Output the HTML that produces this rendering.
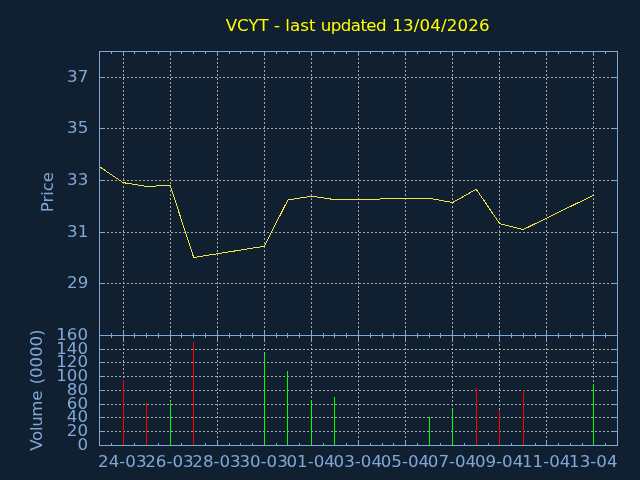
<!DOCTYPE html>
<html><head><meta charset="utf-8"><title>VCYT</title>
<style>html,body{margin:0;padding:0;background:#112030;overflow:hidden}svg{display:block}text{font-family:"DejaVu Sans","Liberation Sans",sans-serif;font-size:16.67px}</style>
</head><body>
<svg width="640" height="480" viewBox="0 0 640 480">
<rect x="0" y="0" width="640" height="480" fill="#112030"/>
<g stroke="#a9a9a9" stroke-width="1" stroke-dasharray="2 2" fill="none">
<path d="M123.5 51.5V335.5" stroke-dashoffset="1.5"/>
<path d="M123.5 335.5V445.5" stroke-dashoffset="3.5"/>
<path d="M170.5 51.5V335.5" stroke-dashoffset="1.5"/>
<path d="M170.5 335.5V445.5" stroke-dashoffset="3.5"/>
<path d="M217.5 51.5V335.5" stroke-dashoffset="1.5"/>
<path d="M217.5 335.5V445.5" stroke-dashoffset="3.5"/>
<path d="M264.5 51.5V335.5" stroke-dashoffset="1.5"/>
<path d="M264.5 335.5V445.5" stroke-dashoffset="3.5"/>
<path d="M311.5 51.5V335.5" stroke-dashoffset="1.5"/>
<path d="M311.5 335.5V445.5" stroke-dashoffset="3.5"/>
<path d="M358.5 51.5V335.5" stroke-dashoffset="1.5"/>
<path d="M358.5 335.5V445.5" stroke-dashoffset="3.5"/>
<path d="M405.5 51.5V335.5" stroke-dashoffset="1.5"/>
<path d="M405.5 335.5V445.5" stroke-dashoffset="3.5"/>
<path d="M452.5 51.5V335.5" stroke-dashoffset="1.5"/>
<path d="M452.5 335.5V445.5" stroke-dashoffset="3.5"/>
<path d="M499.5 51.5V335.5" stroke-dashoffset="1.5"/>
<path d="M499.5 335.5V445.5" stroke-dashoffset="3.5"/>
<path d="M546.5 51.5V335.5" stroke-dashoffset="1.5"/>
<path d="M546.5 335.5V445.5" stroke-dashoffset="3.5"/>
<path d="M593.5 51.5V335.5" stroke-dashoffset="1.5"/>
<path d="M593.5 335.5V445.5" stroke-dashoffset="3.5"/>
<path d="M99.5 77.5H617.5" stroke-dashoffset="0.5"/>
<path d="M99.5 128.5H617.5" stroke-dashoffset="0.5"/>
<path d="M99.5 180.5H617.5" stroke-dashoffset="0.5"/>
<path d="M99.5 232.5H617.5" stroke-dashoffset="0.5"/>
<path d="M99.5 283.5H617.5" stroke-dashoffset="0.5"/>
<path d="M99.5 431.5H617.5" stroke-dashoffset="0.5"/>
<path d="M99.5 417.5H617.5" stroke-dashoffset="0.5"/>
<path d="M99.5 404.5H617.5" stroke-dashoffset="0.5"/>
<path d="M99.5 390.5H617.5" stroke-dashoffset="0.5"/>
<path d="M99.5 376.5H617.5" stroke-dashoffset="0.5"/>
<path d="M99.5 362.5H617.5" stroke-dashoffset="0.5"/>
<path d="M99.5 349.5H617.5" stroke-dashoffset="0.5"/>
</g>
<path d="M111.5 51.5v2.5M111.5 333.0v5.0M111.5 445.5v-2.5M123.5 51.5v4.5M123.5 331.0v9.0M123.5 445.5v-4.5M134.5 51.5v2.5M134.5 333.0v5.0M134.5 445.5v-2.5M146.5 51.5v2.5M146.5 333.0v5.0M146.5 445.5v-2.5M158.5 51.5v2.5M158.5 333.0v5.0M158.5 445.5v-2.5M170.5 51.5v4.5M170.5 331.0v9.0M170.5 445.5v-4.5M181.5 51.5v2.5M181.5 333.0v5.0M181.5 445.5v-2.5M193.5 51.5v2.5M193.5 333.0v5.0M193.5 445.5v-2.5M205.5 51.5v2.5M205.5 333.0v5.0M205.5 445.5v-2.5M217.5 51.5v4.5M217.5 331.0v9.0M217.5 445.5v-4.5M229.5 51.5v2.5M229.5 333.0v5.0M229.5 445.5v-2.5M240.5 51.5v2.5M240.5 333.0v5.0M240.5 445.5v-2.5M252.5 51.5v2.5M252.5 333.0v5.0M252.5 445.5v-2.5M264.5 51.5v4.5M264.5 331.0v9.0M264.5 445.5v-4.5M276.5 51.5v2.5M276.5 333.0v5.0M276.5 445.5v-2.5M287.5 51.5v2.5M287.5 333.0v5.0M287.5 445.5v-2.5M299.5 51.5v2.5M299.5 333.0v5.0M299.5 445.5v-2.5M311.5 51.5v4.5M311.5 331.0v9.0M311.5 445.5v-4.5M323.5 51.5v2.5M323.5 333.0v5.0M323.5 445.5v-2.5M334.5 51.5v2.5M334.5 333.0v5.0M334.5 445.5v-2.5M346.5 51.5v2.5M346.5 333.0v5.0M346.5 445.5v-2.5M358.5 51.5v4.5M358.5 331.0v9.0M358.5 445.5v-4.5M370.5 51.5v2.5M370.5 333.0v5.0M370.5 445.5v-2.5M382.5 51.5v2.5M382.5 333.0v5.0M382.5 445.5v-2.5M393.5 51.5v2.5M393.5 333.0v5.0M393.5 445.5v-2.5M405.5 51.5v4.5M405.5 331.0v9.0M405.5 445.5v-4.5M417.5 51.5v2.5M417.5 333.0v5.0M417.5 445.5v-2.5M429.5 51.5v2.5M429.5 333.0v5.0M429.5 445.5v-2.5M440.5 51.5v2.5M440.5 333.0v5.0M440.5 445.5v-2.5M452.5 51.5v4.5M452.5 331.0v9.0M452.5 445.5v-4.5M464.5 51.5v2.5M464.5 333.0v5.0M464.5 445.5v-2.5M476.5 51.5v2.5M476.5 333.0v5.0M476.5 445.5v-2.5M488.5 51.5v2.5M488.5 333.0v5.0M488.5 445.5v-2.5M499.5 51.5v4.5M499.5 331.0v9.0M499.5 445.5v-4.5M511.5 51.5v2.5M511.5 333.0v5.0M511.5 445.5v-2.5M523.5 51.5v2.5M523.5 333.0v5.0M523.5 445.5v-2.5M535.5 51.5v2.5M535.5 333.0v5.0M535.5 445.5v-2.5M546.5 51.5v4.5M546.5 331.0v9.0M546.5 445.5v-4.5M558.5 51.5v2.5M558.5 333.0v5.0M558.5 445.5v-2.5M570.5 51.5v2.5M570.5 333.0v5.0M570.5 445.5v-2.5M582.5 51.5v2.5M582.5 333.0v5.0M582.5 445.5v-2.5M593.5 51.5v4.5M593.5 331.0v9.0M593.5 445.5v-4.5M605.5 51.5v2.5M605.5 333.0v5.0M605.5 445.5v-2.5M99.5 77.5h4.5M617.5 77.5h-4.5M99.5 128.5h4.5M617.5 128.5h-4.5M99.5 180.5h4.5M617.5 180.5h-4.5M99.5 232.5h4.5M617.5 232.5h-4.5M99.5 283.5h4.5M617.5 283.5h-4.5M99.5 431.5h4.5M617.5 431.5h-4.5M99.5 417.5h4.5M617.5 417.5h-4.5M99.5 404.5h4.5M617.5 404.5h-4.5M99.5 390.5h4.5M617.5 390.5h-4.5M99.5 376.5h4.5M617.5 376.5h-4.5M99.5 362.5h4.5M617.5 362.5h-4.5M99.5 349.5h4.5M617.5 349.5h-4.5" stroke="#7fa8d8" stroke-width="1" fill="none"/>
<path d="M99.50 166.70 L123.05 182.60 L146.59 186.50 L170.14 185.25 L193.68 257.50 L264.32 246.25 L287.87 200.00 L311.41 196.25 L334.96 199.65 L429.14 198.30 L452.69 202.50 L476.24 189.25 L499.78 223.75 L523.33 229.50 L593.97 195.00" stroke="#f0e448" stroke-width="1" fill="none" stroke-linejoin="miter" shape-rendering="crispEdges"/>
<path d="M123.5 445.5V380.0" stroke="#ff0000" stroke-width="1"/>
<path d="M146.5 445.5V403.0" stroke="#ff0000" stroke-width="1"/>
<path d="M170.5 445.5V403.0" stroke="#00ff00" stroke-width="1"/>
<path d="M193.5 445.5V342.0" stroke="#ff0000" stroke-width="1"/>
<path d="M264.5 445.5V354.0" stroke="#00ff00" stroke-width="1"/>
<path d="M287.5 445.5V371.0" stroke="#00ff00" stroke-width="1"/>
<path d="M311.5 445.5V400.0" stroke="#00ff00" stroke-width="1"/>
<path d="M334.5 445.5V397.0" stroke="#00ff00" stroke-width="1"/>
<path d="M429.5 445.5V417.0" stroke="#00ff00" stroke-width="1"/>
<path d="M452.5 445.5V410.0" stroke="#00ff00" stroke-width="1"/>
<path d="M476.5 445.5V388.0" stroke="#ff0000" stroke-width="1"/>
<path d="M499.5 445.5V410.0" stroke="#ff0000" stroke-width="1"/>
<path d="M523.5 445.5V390.0" stroke="#ff0000" stroke-width="1"/>
<path d="M593.5 445.5V384.0" stroke="#00ff00" stroke-width="1"/>
<g stroke="#7fa8d8" stroke-width="1" fill="none">
<rect x="99.5" y="51.5" width="518.0" height="284.0"/>
<rect x="99.5" y="335.5" width="518.0" height="110.0"/>
</g>
<g fill="#7fa8d8">
<text x="88.3" y="81.9" text-anchor="end">37</text>
<text x="88.3" y="132.9" text-anchor="end">35</text>
<text x="88.3" y="184.9" text-anchor="end">33</text>
<text x="88.3" y="236.9" text-anchor="end">31</text>
<text x="88.3" y="287.9" text-anchor="end">29</text>
<text x="88.0" y="449.8" text-anchor="end">0</text>
<text x="88.0" y="435.8" text-anchor="end">20</text>
<text x="88.0" y="421.8" text-anchor="end">40</text>
<text x="88.0" y="408.8" text-anchor="end">60</text>
<text x="88.0" y="394.8" text-anchor="end">80</text>
<text x="88.0" y="380.8" text-anchor="end">100</text>
<text x="88.0" y="366.8" text-anchor="end">120</text>
<text x="88.0" y="353.8" text-anchor="end">140</text>
<text x="88.0" y="339.8" text-anchor="end">160</text>
<text x="122.3" y="467" text-anchor="middle">24-03</text>
<text x="169.4" y="467" text-anchor="middle">26-03</text>
<text x="216.5" y="467" text-anchor="middle">28-03</text>
<text x="263.6" y="467" text-anchor="middle">30-03</text>
<text x="310.7" y="467" text-anchor="middle">01-04</text>
<text x="357.8" y="467" text-anchor="middle">03-04</text>
<text x="404.9" y="467" text-anchor="middle">05-04</text>
<text x="452.0" y="467" text-anchor="middle">07-04</text>
<text x="499.1" y="467" text-anchor="middle">09-04</text>
<text x="546.2" y="467" text-anchor="middle">11-04</text>
<text x="593.3" y="467" text-anchor="middle">13-04</text>
<text transform="translate(52.8 192.2) rotate(-90)" text-anchor="middle" letter-spacing="-0.12">Price</text>
<text transform="translate(41.5 390.1) rotate(-90)"><tspan x="-60.54" letter-spacing="-0.38">Volume </tspan><tspan x="5.85" letter-spacing="-0.12">(0000)</tspan></text>
</g>
<text y="30.8" fill="#ffff00"><tspan x="225.7">VCYT - last </tspan><tspan x="320.8" letter-spacing="-0.58">updated </tspan><tspan x="392.2" letter-spacing="0.16">13/04/2026</tspan></text>
</svg></body></html>
